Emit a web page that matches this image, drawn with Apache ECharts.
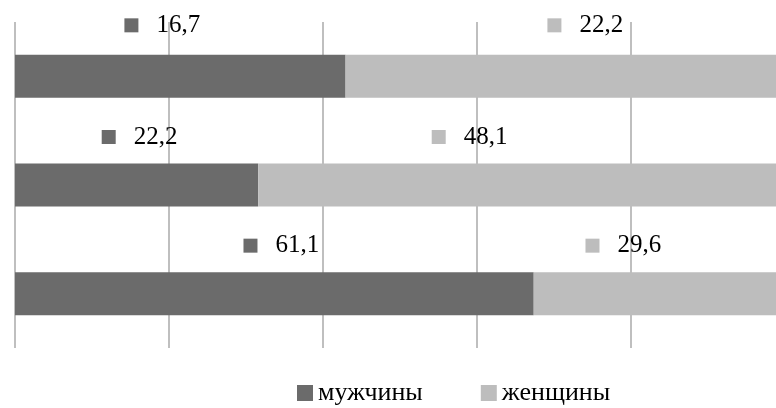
<!DOCTYPE html>
<html>
<head>
<meta charset="utf-8">
<script src="https://cdn.jsdelivr.net/npm/echarts@6/dist/echarts.min.js"></script>
<style>
  html, body { margin: 0; padding: 0; background: #fff; overflow: hidden; }
  /* the original plot runs a little past the right edge of the picture */
  #chart { width: 785px; height: 408px; }
</style>
</head>
<body>
<div id="chart"></div>
<script>
// rows, top to bottom
var categories = ['1', '2', '3'];
var menValues = [16.7, 22.2, 61.1];
var womenValues = [22.2, 48.1, 29.6];
var seriesNames = ['мужчины', 'женщины'];
var xTicks = [0, 20, 40, 60, 80, 100];

var darkColor = '#6b6b6b', lightColor = '#bdbdbd';
var font = '"Liberation Serif", "Times New Roman", serif';

// labels were moved by hand in the original, nudge them the same way
var menNudge = [[-18, -3], [3, 0], [7, 0]];
var womenNudge = [[20, -3], [-52, 0], [-36, 0]];

function share(a, b) {
	return a.map(function (v, i) { return v / (v + b[i]) * 100; });
}

function fmt(v) {
	return String(v.toFixed(1)).replace('.', ',');
}

function buildData(raw, other, nudge) {
	var pct = share(raw, other);
	return pct.map(function (p, i) {
		return {
			value: p,
			raw: raw[i],
			label: { offset: nudge[i] }
		};
	});
}

function makeLabel(color) {
	return {
		show: true,
		position: 'top',
		distance: 14,
		formatter: function (p) { return '{sq|}{v|' + fmt(p.data.raw) + '}'; },
		rich: {
			sq: { backgroundColor: color, width: 14, height: 14 },
			v: { fontFamily: font, fontSize: 25, color: '#000', padding: [0, 0, 0, 18] }
		}
	};
}

var chart = echarts.init(document.getElementById('chart'));
chart.setOption({
	animation: false,
	backgroundColor: '#fff',
	grid: { left: 15, top: 22, right: 0, bottom: 60, containLabel: false },
	legend: {
		data: seriesNames,
		left: 297,
		top: 380,
		padding: 0,
		icon: 'rect',
		itemWidth: 16,
		itemHeight: 16,
		itemGap: 58,
		textStyle: { fontFamily: font, fontSize: 26, color: '#000' }
	},
	xAxis: {
		type: 'value',
		min: xTicks[0],
		max: xTicks[xTicks.length - 1],
		interval: xTicks[1] - xTicks[0],
		axisLine: { show: false },
		axisTick: { show: false },
		axisLabel: { show: false },
		splitLine: { show: true, lineStyle: { color: '#bfbfbf', width: 2 } }
	},
	yAxis: {
		type: 'category',
		data: categories,
		inverse: true,
		axisLine: { show: false },
		axisTick: { show: false },
		axisLabel: { show: false }
	},
	series: [
		{
			name: seriesNames[0],
			type: 'bar',
			stack: 'all',
			barWidth: 43,
			itemStyle: { color: darkColor },
			label: makeLabel(darkColor),
			data: buildData(menValues, womenValues, menNudge)
		},
		{
			name: seriesNames[1],
			type: 'bar',
			stack: 'all',
			barWidth: 43,
			itemStyle: { color: lightColor },
			label: makeLabel(lightColor),
			data: buildData(womenValues, menValues, womenNudge)
		}
	]
});
</script>
</body>
</html>
